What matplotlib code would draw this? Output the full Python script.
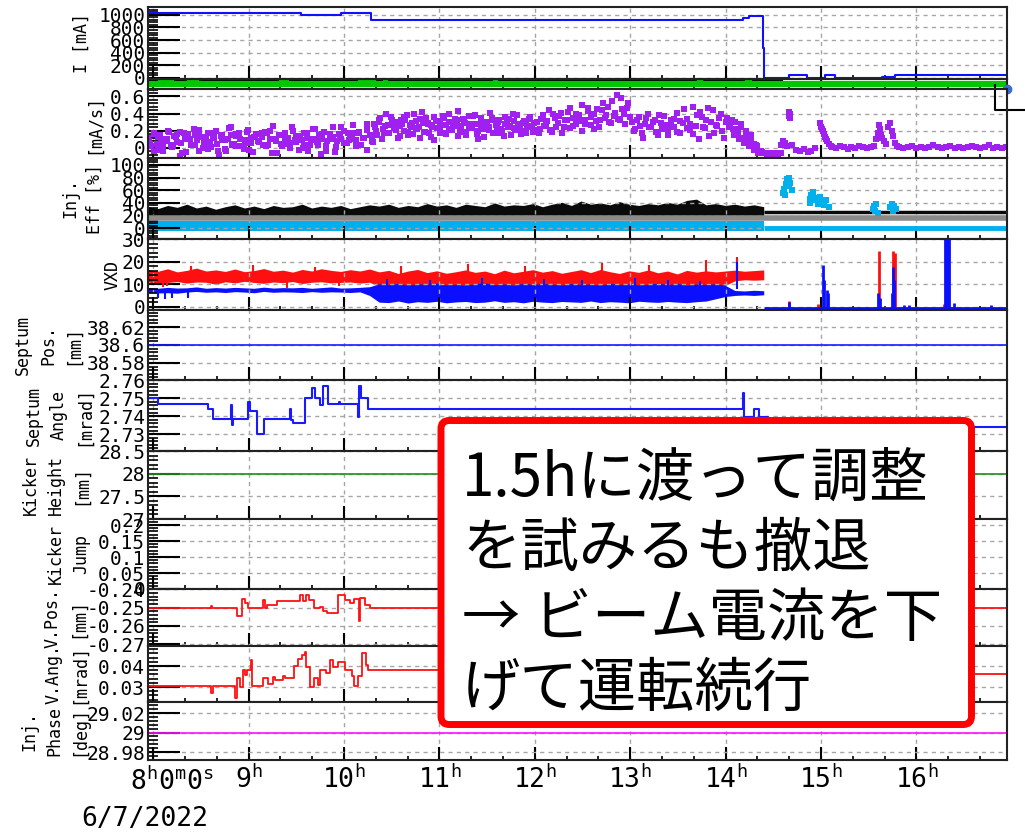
import numpy as np
import matplotlib
matplotlib.use("Agg")
import matplotlib.pyplot as plt
from matplotlib.ticker import FixedLocator, FixedFormatter, AutoMinorLocator, FormatStrFormatter, NullLocator
from matplotlib.patches import FancyBboxPatch

plt.rcParams['font.family'] = ['DejaVu Sans Mono']
plt.rcParams['mathtext.fontset'] = 'custom'
plt.rcParams['mathtext.rm'] = 'DejaVu Sans Mono'
plt.rcParams['axes.linewidth'] = 1.5

# ---------------- data (time in hours, 6/7/2022) ----------------
t_start, t_end = 7.946, 16.95
hours = [8, 9, 10, 11, 12, 13, 14, 15, 16]
hour_labels = ['', r'$9^{\mathrm{h}}$', r'$10^{\mathrm{h}}$', r'$11^{\mathrm{h}}$', r'$12^{\mathrm{h}}$',
               r'$13^{\mathrm{h}}$', r'$14^{\mathrm{h}}$', r'$15^{\mathrm{h}}$', r'$16^{\mathrm{h}}$']
first_label = r'$8^{\mathrm{h}}0^{\mathrm{m}}0^{\mathrm{s}}$'
date_label = '6/7/2022'

# beam current [mA]
cur_t = [7.946, 8.5, 9.0, 9.55, 9.97, 10.28, 12.5, 14.18, 14.25, 14.39, 14.40, 14.67, 14.85,
         15.04, 15.15, 15.64, 15.78, 16.95]
cur_v = [1030, 1025, 1030, 1005, 1025, 915, 918, 945, 985, 480, 0, 48, 0, 40, 0, 15, 48, 48]

# thin status strip
green_on_start = [8.05, 8.35, 9.32, 10.15, 10.41, 11.56, 13.70, 14.20]
green_on_end = [8.22, 8.48, 9.42, 10.34, 10.46, 11.61, 13.76, 14.28]
green_on_level = 0.72
strip_black_t = [7.946, 14.59, 14.59]
strip_black_v = [0.85, 0.85, 0.45]
strip_green_v = 0.45
edge_line_t = [16.82, 16.82, 17.13]
edge_line_v = [0.734, 0.443, 0.443]
edge_dot_t, edge_dot_v = [16.95], [0.0]

# injection rate [mA/s] (scatter)
pA = [0.12, 0.02, 0.18, 0.05, 0.15, -0.04, 0.10, 0.20, 0.03, 0.14, 0.07, 0.19, -0.06, 0.11, 0.16, 0.04,
      0.22, 0.09, -0.03, 0.13, 0.06, 0.17, 0.01, 0.12, 0.20, -0.08, 0.15, -0.01, 0.10, 0.25, 0.05, 0.14,
      0.18, 0.02, 0.09, 0.21, 0.12, -0.05, 0.16, 0.07, 0.13, 0.19, 0.04, 0.10, 0.26, 0.08, 0.15, 0.02,
      0.18, 0.11, 0.06, 0.20, 0.14, -0.02, 0.09, 0.17, 0.12, 0.03, 0.22, 0.10, 0.15, -0.07, 0.19, 0.08,
      0.13, 0.24, 0.01, 0.16, 0.11, 0.20, 0.06, 0.14, 0.27, 0.09, 0.18, 0.03, 0.12, 0.21, 0.15, 0.07]
pA2 = [0.05, 0.16, -0.02, 0.11, 0.08, 0.19, 0.02, 0.13, -0.09, 0.17, 0.10, 0.04, 0.15, 0.21, 0.00, 0.12,
       0.07, 0.18, -0.04, 0.14, 0.09, 0.23, 0.03, 0.16, 0.11, -0.01, 0.19, 0.06, 0.13, 0.08, 0.17, 0.02,
       0.20, 0.10, -0.06, 0.15, 0.05, 0.12, 0.24, 0.07, 0.14, 0.00, 0.18, 0.09, 0.22, 0.04, 0.11, -0.03,
       0.16, 0.13, 0.08, 0.25, 0.06, 0.17, 0.10, 0.02, 0.19, 0.12, 0.28, 0.15]
pA3 = [0.08, -0.03, 0.13, 0.04, 0.10, 0.01, 0.16, 0.06, -0.05, 0.11, 0.03, 0.14, 0.07, -0.01, 0.12, 0.05,
       0.09, -0.04, 0.15, 0.02, 0.11, 0.06, -0.02, 0.13, 0.08, 0.03, 0.17, -0.06, 0.10, 0.05, 0.12, 0.00,
       0.09, 0.14, 0.04, -0.03, 0.11, 0.07, 0.16, 0.02, 0.10, -0.05, 0.13, 0.06, 0.09, 0.18, 0.03, 0.12,
       -0.02, 0.08]
pB = [0.28, 0.15, 0.35, 0.22, 0.40, 0.18, 0.30, 0.25, 0.12, 0.33, 0.20, 0.38, 0.27, 0.16, 0.31, 0.24,
      0.42, 0.19, 0.29, 0.13, 0.36, 0.23, 0.31, 0.17, 0.27, 0.39, 0.21, 0.34, 0.14, 0.26, 0.32, 0.19,
      0.37, 0.24, 0.28, 0.11, 0.35, 0.22, 0.30, 0.41, 0.18, 0.27, 0.33, 0.20, 0.36, 0.25, 0.15, 0.31,
      0.38, 0.23, 0.29, 0.17, 0.34, 0.26, 0.21]
pB2 = [0.20, 0.32, 0.10, 0.26, 0.17, 0.36, 0.23, 0.30, 0.14, 0.28, 0.33, 0.19, 0.25, 0.40, 0.22, 0.12,
       0.29, 0.35, 0.18, 0.27, 0.09, 0.31, 0.24, 0.37, 0.16, 0.30, 0.21, 0.26, 0.43, 0.19, 0.34, 0.15,
       0.28, 0.23, 0.38, 0.20, 0.32, 0.13, 0.27, 0.24, 0.35, 0.18, 0.30, 0.22, 0.14, 0.33, 0.26, 0.39,
       0.21, 0.28, 0.16, 0.31, 0.24, 0.36, 0.19]
pB3 = [0.24, 0.30, 0.18, 0.27, 0.33, 0.21, 0.26, 0.36, 0.15, 0.29, 0.23, 0.34, 0.19, 0.28, 0.25, 0.31,
       0.17, 0.35, 0.22, 0.27, 0.32, 0.20, 0.29, 0.24, 0.37, 0.16, 0.26, 0.30, 0.21, 0.33, 0.25, 0.18,
       0.28, 0.34, 0.23, 0.27, 0.20, 0.31, 0.26, 0.29]
pC = [0.30, 0.22, 0.38, 0.27, 0.44, 0.19, 0.35, 0.29, 0.41, 0.24, 0.33, 0.47, 0.26, 0.39, 0.31, 0.50,
      0.28, 0.43, 0.36, 0.22, 0.45, 0.33, 0.52, 0.38, 0.30, 0.55, 0.41, 0.34, 0.58, 0.40, 0.47, 0.36]
pC2 = [0.18, 0.34, 0.26, 0.31, 0.21, 0.40, 0.25, 0.37, 0.17, 0.32, 0.42, 0.23, 0.35, 0.28, 0.38, 0.20,
       0.33, 0.46, 0.27, 0.40, 0.31, 0.24, 0.44, 0.35, 0.48, 0.29, 0.37, 0.62, 0.33, 0.45, 0.28, 0.52]
pD = [0.30, 0.22, 0.36, 0.18, 0.28, 0.40, 0.24, 0.33, 0.15, 0.29, 0.37, 0.21, 0.26, 0.34, 0.19, 0.31,
      0.45, 0.23, 0.28, 0.16, 0.38, 0.42, 0.25, 0.32, 0.14, 0.44, 0.27, 0.35, 0.20, 0.30]
pD2 = [0.20, 0.33, 0.26, 0.12, 0.35, 0.24, 0.30, 0.19, 0.38, 0.22, 0.27, 0.15, 0.32, 0.25, 0.41, 0.18,
       0.29, 0.34, 0.21, 0.48, 0.26, 0.10, 0.36, 0.23, 0.47, 0.30, 0.18, 0.26, 0.40, 0.12]
pE = [0.35, 0.28, 0.22, 0.30, 0.18, 0.25, 0.12, 0.20, 0.08, 0.15, 0.05, 0.02, -0.03, -0.05]
pE2 = [0.25, 0.32, 0.15, 0.22, 0.10, 0.28, 0.06, 0.14, 0.02, 0.09, -0.02, 0.04, -0.06, -0.04]
pF_t = [14.40, 14.43, 14.46, 14.49, 14.52, 14.55, 14.58, 14.60, 14.58, 14.62, 14.64, 14.66, 14.66,
        14.68, 14.68, 14.70, 14.74, 14.78, 14.82, 14.86, 14.90, 14.94,
        14.99, 15.00, 15.01, 15.02, 15.03, 15.04, 15.05, 15.06, 15.08, 15.10,
        15.58, 15.60, 15.61, 15.62, 15.63, 15.64, 15.66, 15.68, 15.70, 15.72, 15.74, 15.76, 15.78, 15.80]
pF_v = [-0.06, -0.07, -0.06, -0.07, -0.06, -0.07, -0.06, 0.08, 0.04, 0.06, 0.02, 0.42, 0.37,
        0.40, 0.35, 0.03, -0.02, -0.04, -0.01, -0.05, -0.03, 0.0,
        0.29, 0.25, 0.22, 0.20, 0.16, 0.13, 0.11, 0.08, 0.05, 0.02,
        0.10, 0.18, 0.27, 0.22, 0.15, 0.12, 0.08, 0.05, 0.25, 0.29, 0.20, 0.14, 0.06, 0.02]
pH = [0.01, 0.0, 0.02, 0.01, -0.01, 0.01, 0.0, 0.02, 0.01, 0.0, 0.01, 0.02]
pJ = [0.01, 0.0, 0.01, 0.02, 0.0, 0.01, 0.0, 0.01, 0.03, 0.01, 0.0, 0.01, 0.02, 0.0, 0.01, 0.0,
      0.01, 0.02, 0.01, 0.0, 0.01, 0.03, 0.0, 0.01, 0.0, 0.01]

# injection efficiency [%] and VXD bands (sampled envelopes before the beam abort)
band_t = np.linspace(7.95, 14.4, 65)
black_hi = [34, 31, 36, 33, 38, 32, 35, 30, 34, 37, 32, 35, 31, 36, 33, 34, 38, 32, 35, 33, 36, 31, 34, 37,
            35, 38, 33, 36, 34, 39, 35, 37, 33, 38, 36, 34, 40, 35, 37, 36, 39, 34, 38, 41, 36, 43, 38, 40,
            37, 42, 38, 36, 39, 37, 41, 38, 44, 46, 37, 39, 36, 38, 35, 37, 34]
black_lo = 17
cyan_hi, cyan_lo = 11.5, -4.0
gray_level = 16
black_after, cyan_after = 25, 0.5
cyan_pt_t = [14.60, 14.61, 14.62, 14.63, 14.64, 14.65, 14.66, 14.67, 14.68, 14.70,
             14.88, 14.89, 14.90, 14.92, 14.93, 14.95, 14.97, 14.99, 15.01, 15.03, 15.05, 15.08,
             15.55, 15.56, 15.57, 15.58, 15.60, 15.72, 15.74, 15.75, 15.77, 15.79]
cyan_pt_v = [55, 62, 52, 70, 78, 74, 66, 80, 72, 60,
             40, 46, 52, 57, 48, 44, 38, 50, 42, 36, 45, 34,
             30, 35, 28, 38, 24, 33, 39, 27, 35, 30]

red_hi = [16.5, 15.8, 16.9, 15.5, 16.2, 17.2, 15.9, 16.4, 15.7, 16.8, 15.6, 16.1, 17.0, 15.8, 16.3, 15.4,
          16.6, 15.9, 16.9, 16.2, 15.7, 16.5, 15.9, 16.8,
          15.5, 16.2, 14.8, 15.9, 16.6, 15.2, 16.0, 14.9, 15.6, 16.4, 15.3, 15.9, 14.7, 16.3, 15.1, 15.8,
          16.5, 15.4, 16.1, 14.9, 15.7, 16.5, 15.2, 16.6, 15.6, 14.8, 16.0, 15.3, 16.4, 15.1, 15.9, 14.6,
          16.2, 15.4, 16.0, 15.5, 15.9, 16.3, 15.8, 16.1, 16.4]
red_lo = [11.0, 10.2, 10.8, 11.2, 10.5, 11.0, 10.9, 10.0, 11.1, 10.6, 11.3, 10.8, 10.4, 11.0, 10.7, 11.2,
          10.3, 10.9, 11.1, 10.6, 10.8, 11.0, 10.5, 10.9,
          9.0, 8.2, 9.5, 8.0, 8.8, 9.2, 7.9, 8.6, 9.1, 8.3, 8.9, 7.8, 9.3, 8.5, 8.7, 9.0, 8.1, 8.8, 9.4,
          8.2, 8.6, 9.1, 7.7, 8.9, 8.4, 9.2, 8.0, 8.7, 9.0, 8.3, 8.8, 9.1, 8.5, 8.9, 8.2, 9.0, 9.5, 11.5,
          12.0, 11.8, 12.0]
blue_hi = [8.5, 8.2, 8.6, 8.3, 8.4, 8.8, 8.2, 8.5, 8.3, 8.6, 8.4, 8.2, 8.7, 8.3, 8.5, 8.4, 8.6, 8.2, 8.5,
           8.8, 8.3, 8.4, 8.6, 8.9,
           10.2, 9.8, 10.4, 9.6, 10.2, 9.9, 10.5, 9.7, 10.0, 9.5, 10.3, 10.6, 9.8, 10.1, 9.6, 10.4, 9.9,
           10.3, 10.0, 9.7, 10.3, 9.8, 10.1, 9.6, 10.4, 9.9, 10.2, 9.7, 10.0, 10.5, 9.8, 10.4, 9.6, 10.1,
           9.9, 10.2, 9.5, 7.2, 7.0, 7.3, 7.1]
blue_lo = [6.5, 6.1, 6.2, 6.0, 6.5, 6.8, 6.4, 6.6, 6.3, 6.7, 6.5, 6.2, 6.8, 6.4, 6.6, 6.5, 6.3, 6.7, 6.4,
           6.6, 6.5, 6.3, 6.6, 5.0,
           2.0, 1.8, 2.5, 1.6, 2.2, 1.9, 2.4, 1.7, 2.1, 2.3, 1.8, 2.0, 2.6, 1.9, 2.2, 1.7, 2.4, 2.0, 1.8,
           2.3, 2.1, 1.9, 2.5, 1.8, 2.2, 2.0, 1.7, 2.4, 2.1, 1.9, 2.3, 2.0, 1.8, 2.2, 2.5, 3.5, 4.5, 5.0,
           5.2, 5.0, 5.3]
red_up_t = [8.4, 9.05, 9.7, 10.6, 11.3, 11.9, 12.7, 13.2, 13.8, 14.12]
red_up_v = [18.0, 18.5, 17.8, 18.2, 19.0, 18.0, 19.5, 18.4, 21.0, 22.0]
red_dn_t = [8.1, 8.15, 9.4, 9.95]
red_dn_v = [8.8, 9.0, 8.5, 9.2]
blue_up_t = [10.45, 10.9, 11.45, 12.1, 12.5, 13.05, 13.4, 13.73, 14.12]
blue_up_v = [12.5, 11.8, 13.0, 12.2, 11.9, 13.0, 12.0, 11.6, 20.0]
blue_dn_t = [8.05, 8.12, 8.2, 8.37]
blue_dn_v = [3.9, 3.5, 4.0, 3.9]
vxd_base = -0.4
red_post_t = [14.66, 14.97, 15.61, 15.755, 15.78, 16.29]
red_post_v = [2.5, 1.0, 25, 25, 24, 1.2]
blue_post_t = [14.66, 15.02, 15.03, 15.065, 15.075, 15.60, 15.62, 15.745, 15.76, 15.77, 15.87, 15.92,
               16.305, 16.315, 16.325, 16.335, 16.345, 16.395, 16.78]
blue_post_v = [2.0, 18.6, 12.0, 7.5, 6.0, 6.0, 4.0, 6.0, 17.7, 12.0, 0.8, 0.6, 31, 31, 31, 31, 31, 1.6, 0.6]

# septum / kicker / injection parameters (step series)
sep_pos = 38.6
sep_ang_t = [7.946, 8.05, 8.57, 8.63, 8.82, 8.83, 8.84, 8.99, 9.01, 9.09, 9.16, 9.43, 9.44, 9.47, 9.59,
             9.66, 9.70, 9.75, 9.78, 9.83, 9.95, 9.96, 10.145, 10.155, 10.175, 10.25, 14.18, 14.19, 14.30,
             14.35, 14.45, 16.95]
sep_ang_v = [2.75, 2.7467, 2.744, 2.7383, 2.746, 2.735, 2.7383, 2.748, 2.743, 2.730, 2.7383, 2.744, 2.738,
             2.736, 2.75, 2.7555, 2.75, 2.746, 2.757, 2.747, 2.748, 2.747, 2.7394, 2.757, 2.75, 2.744, 2.753,
             2.7394, 2.744, 2.7394, 2.734, 2.734]
kick_height = 28.0
vpos_t = [7.946, 8.61, 8.62, 8.88, 8.93, 8.96, 8.99, 9.15, 9.17, 9.19, 9.30, 9.54, 9.57, 9.60, 9.63, 9.69,
          9.75, 9.78, 9.82, 9.94, 10.01, 10.06, 10.11, 10.16, 10.17, 10.22, 10.27, 16.95]
vpos_v = [-0.25, -0.249, -0.25, -0.2547, -0.2453, -0.2474, -0.25, -0.2458, -0.25, -0.2484, -0.2463,
          -0.2432, -0.2463, -0.2432, -0.2458, -0.2505, -0.2495, -0.2521, -0.2532, -0.2432, -0.2458,
          -0.2474, -0.2453, -0.2574, -0.2447, -0.2484, -0.25, -0.25]
vang_t = [7.946, 8.61, 8.63, 8.86, 8.88, 8.91, 8.94, 8.96, 8.98, 9.03, 9.04, 9.15, 9.20, 9.26, 9.28, 9.36,
          9.38, 9.48, 9.52, 9.56, 9.59, 9.60, 9.64, 9.69, 9.73, 9.75, 9.81, 9.85, 9.89, 9.94, 10.01, 10.08,
          10.11, 10.15, 10.19, 10.23, 10.25, 14.45, 16.95]
vang_v = [0.0305, 0.0271, 0.0305, 0.0248, 0.0343, 0.030, 0.0381, 0.0357, 0.0381, 0.043, 0.0305, 0.0343,
          0.0314, 0.0348, 0.0333, 0.0352, 0.0343, 0.040, 0.0433, 0.0452, 0.0467, 0.0395, 0.030, 0.0343,
          0.031, 0.0381, 0.0367, 0.043, 0.0395, 0.042, 0.0381, 0.0352, 0.0305, 0.0352, 0.0462, 0.0405,
          0.0381, 0.0360, 0.0360]
inj_phase = 29.0

note_lines = ['1.5hに渡って調整', 'を試みるも撤退', '→ ビーム電流を下', 'げて運転続行']

# ---------------- layout ----------------
W, H = 1025, 834
fig = plt.figure(figsize=(W / 100, H / 100), dpi=100)
X0, X1 = 148, 1007
rows = [(7, 78.5), (78.5, 89), (89, 158), (158, 239), (239, 310), (310, 380),
        (380, 451), (451, 519), (519, 589), (589, 646), (646, 702), (702, 760)]
minors = np.arange(8, 17, 1 / 3)
grid_kw = dict(color='#a6a6a6', ls=(0, (3, 3)), lw=1)


def panel(top, bot):
    ax = fig.add_axes([X0 / W, 1 - bot / H, (X1 - X0) / W, (bot - top) / H])
    ax.set_xlim(t_start, t_end)
    ax.xaxis.set_major_locator(FixedLocator(hours))
    ax.xaxis.set_minor_locator(FixedLocator(minors))
    ax.tick_params(axis='x', which='major', direction='in', length=9.5, width=1.5, labelbottom=False)
    ax.tick_params(axis='x', which='minor', direction='in', length=3, width=1.2)
    ax.tick_params(axis='y', which='major', direction='in', length=23, width=1.5, labelsize=14, pad=2)
    ax.tick_params(axis='y', which='minor', direction='in', length=7, width=1.2)
    ax.grid(True, which='major', **grid_kw)
    for s in ax.spines.values():
        s.set_color('#222222')
    return ax


def yaxis(ax, lim, ticks, label, right_px):
    ax.set_ylim(lim)
    ax.yaxis.set_major_locator(FixedLocator(ticks))
    ax.yaxis.set_minor_locator(AutoMinorLocator(5))
    ax.yaxis.set_major_formatter(FormatStrFormatter('%g'))
    ax.set_ylabel(label, fontsize=12, linespacing=1.5)
    ax.yaxis.set_label_coords((right_px - X0) / (X1 - X0), 0.5)


axs = [panel(*r) for r in rows]

# 1 beam current
ax = axs[0]
ax.plot(cur_t, cur_v, color='#1010ff', lw=1.5, drawstyle='steps-post')
yaxis(ax, (-10, 1125), [0, 200, 400, 600, 800, 1000], 'I [mA]', 91)

# 1b status strip
ax = axs[1]
ax.set_ylim(0, 1)
ax.yaxis.set_major_locator(NullLocator())
ax.yaxis.set_minor_locator(NullLocator())
ax.plot(strip_black_t, strip_black_v, color='k', lw=1.5)
ax.hlines([green_on_level] * len(green_on_start), green_on_start, green_on_end, color='#00c000', lw=3)
ax.axhline(strip_green_v, color='#00c800', lw=4.5)
ax.grid(False, axis='y')
ax.plot(edge_dot_t, edge_dot_v, 'o', color='#3a6ad8', ms=6, clip_on=False, zorder=5)

# 2 injection rate
ax = axs[2]
segs = [(7.95, 10.30, pA), (7.97, 10.28, pA2), (7.96, 10.29, pA3),
        (10.32, 12.0, pB), (10.34, 11.98, pB2), (10.33, 11.99, pB3),
        (12.02, 13.0, pC), (12.04, 12.98, pC2), (13.02, 14.0, pD), (13.04, 13.98, pD2),
        (14.02, 14.38, pE), (14.04, 14.37, pE2), (15.12, 15.56, pH), (15.82, 16.94, pJ)]
for a, b, vals in segs:
    ax.plot(np.linspace(a, b, len(vals)), vals, 's', color='#a020f0', ms=4.3, mew=0)
ax.plot(pF_t, pF_v, 's', color='#a020f0', ms=4.3, mew=0)
ax.plot(edge_line_t, edge_line_v, color='k', lw=1.5, clip_on=False)
yaxis(ax, (-0.117, 0.687), [0, 0.2, 0.4, 0.6], '[mA/s]', 103)

# 3 injection efficiency
ax = axs[3]
ax.fill_between(band_t, black_lo, black_hi, color='#0a0a0a', lw=0)
ax.fill_between([band_t[0], band_t[-1]], cyan_lo, cyan_hi, color='#00b0ec', lw=0)
ax.hlines(black_after, band_t[-1], t_end, color='#0a0a0a', lw=2.5)
ax.hlines(cyan_after, band_t[-1], t_end, color='#00b0ec', lw=3.5)
ax.axhline(gray_level, color='#8a8a8a', lw=4)
ax.plot(cyan_pt_t, cyan_pt_v, 's', color='#00b0ec', ms=4.5, mew=0)
yaxis(ax, (-17, 111), [0, 20, 40, 60, 80, 100], 'Inj.\nEff [%]', 104)

# 4 VXD
ax = axs[4]
ax.fill_between(band_t, red_lo, red_hi, color='#ff1010', lw=0)
ax.vlines(red_up_t, 14, red_up_v, color='#ff1010', lw=1.5)
ax.vlines(red_dn_t, 11, red_dn_v, color='#ff1010', lw=1.5)
ax.fill_between(band_t, blue_lo, blue_hi, color='#0a10ff', lw=0)
ax.vlines(blue_up_t, 8, blue_up_v, color='#0a10ff', lw=1.5)
ax.vlines(blue_dn_t, 7, blue_dn_v, color='#0a10ff', lw=1.5)
ax.vlines(red_post_t, vxd_base, red_post_v, color='#ff1010', lw=2)
ax.vlines(blue_post_t, vxd_base, blue_post_v, color='#0a10ff', lw=2)
ax.hlines(vxd_base, band_t[-1], t_end, color='#0a10ff', lw=2)
yaxis(ax, (-1.5, 30.2), [0, 10, 20, 30], 'VXD', 122)

# 5 septum position
ax = axs[5]
ax.axhline(sep_pos, color='#1a1aff', lw=1.2)
yaxis(ax, (38.561, 38.639), [38.58, 38.60, 38.62], 'Septum\nPos.\n[mm]', 82)

# 6 septum angle
ax = axs[6]
ax.plot(sep_ang_t, sep_ang_v, color='#1a1aff', lw=1.5, drawstyle='steps-post')
yaxis(ax, (2.7206, 2.7601), [2.73, 2.74, 2.75, 2.76], 'Septum\nAngle\n[mrad]', 93)

# 7 kicker height
ax = axs[7]
ax.axhline(kick_height, color='#1f8f1f', lw=1.2)
yaxis(ax, (27, 28.5), [27, 27.5, 28, 28.5], 'Kicker\nHeight\n[mm]', 90)

# 8 kicker jump
ax = axs[8]
yaxis(ax, (0, 0.219), [0, 0.05, 0.1, 0.15, 0.2], 'Kicker\nJump', 90)

# 9 vertical position
ax = axs[9]
ax.plot(vpos_t, vpos_v, color='#ff1010', lw=1.3, drawstyle='steps-post')
yaxis(ax, (-0.2710, -0.2399), [-0.27, -0.26, -0.25, -0.24], 'V.Pos.\n[mm]', 87)

# 10 vertical angle
ax = axs[10]
ax.plot(vang_t, vang_v, color='#ff1010', lw=1.3, drawstyle='steps-post')
yaxis(ax, (0.0229, 0.0495), [0.03, 0.04], 'V.Ang.\n[mrad]', 88)

# 11 injection phase
ax = axs[11]
ax.axhline(inj_phase, color='#ff10ff', lw=1.2)
yaxis(ax, (28.9718, 29.0313), [28.98, 29.0, 29.02], 'Inj.\nPhase\n[deg]', 88)
ax.xaxis.set_major_formatter(FixedFormatter(hour_labels))
ax.tick_params(axis='x', which='major', labelbottom=True, labelsize=19, pad=4)
ax.annotate(first_label, xy=(hours[0], 0), xycoords=('data', 'axes fraction'),
            xytext=(19, -8), textcoords='offset pixels', ha='center', va='top', fontsize=19)
fig.text(145 / W, 1 - 819 / H, date_label, ha='center', va='center', fontsize=19)

# note box
box = FancyBboxPatch((441 / W, 1 - 724.5 / H), (971.5 - 441) / W, (724.5 - 420.5) / H,
                     boxstyle='round,pad=0,rounding_size=0.008', mutation_aspect=W / H,
                     transform=fig.transFigure, fc='white', ec='#ff0000', lw=5, zorder=10)
fig.add_artist(box)
for i, line in enumerate(note_lines):
    fig.text(462 / W, 1 - (496 + 70 * i) / H, line, fontsize=42, va='baseline', ha='left',
             family=['Noto Sans CJK JP', 'DejaVu Sans'], zorder=11)

fig.savefig('out.png', dpi=100)
